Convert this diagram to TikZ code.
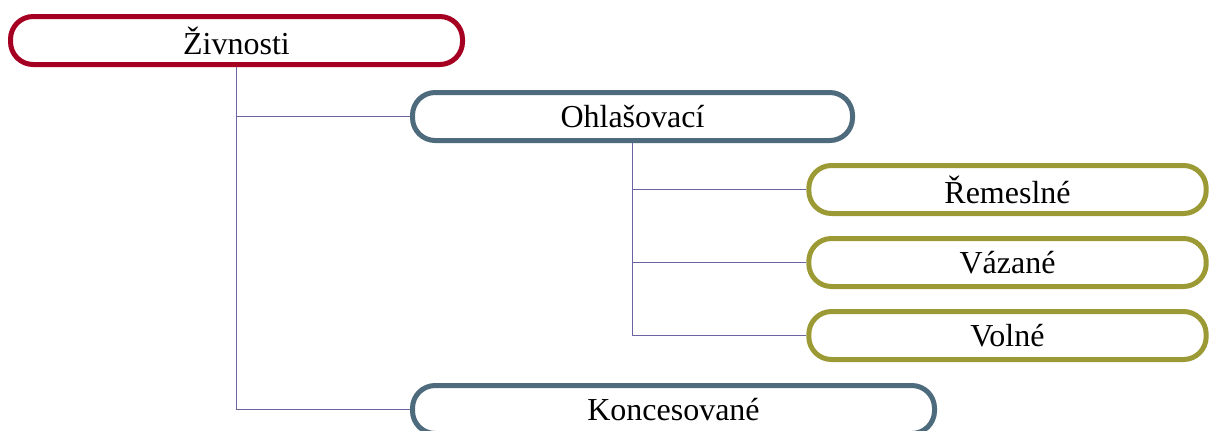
\documentclass[tikz,border=0pt]{standalone}
\usepackage{fontspec}
\setmainfont{Liberation Serif}
\definecolor{cred}{HTML}{A50021}
\definecolor{cblue}{HTML}{4E6B7E}
\definecolor{colive}{HTML}{9C9A35}
\definecolor{cline}{HTML}{6E62A3}
\begin{document}
\begin{tikzpicture}[x=0.75pt,y=-0.75pt,
  box/.style={draw,line width=3.75pt,rounded corners=17pt,fill=white,
    minimum height=36pt,inner sep=0pt,font=\fontsize{24}{28}\selectfont},
  lvl0/.style={box,draw=cred},
  lvl1/.style={box,draw=cblue},
  lvl2/.style={box,draw=colive},
  conn/.style={draw=cline,line width=1.1pt}]
\useasboundingbox (0,0) rectangle (1210,430);
\begin{scope}
\clip (0,0) rectangle (1210,430);
\node[lvl0,minimum width=339pt] (ziv) at (236.5,40.5) {Živnosti};
\node[lvl1,minimum width=330pt] (ohl) at (632.5,116.5) {Ohlašovací};
\node[lvl2,minimum width=298pt] (rem) at (1007.5,189.5) {Řemeslné};
\node[lvl2,minimum width=298pt] (vaz) at (1007.5,262.5) {Vázané};
\node[lvl2,minimum width=298pt] (vol) at (1007.5,335.5) {Volné};
\node[lvl1,minimum width=391.5pt] (kon) at (673.5,409.5) {Koncesované};
\end{scope}
\draw[conn] (ziv.south) |- (ohl.west);
\draw[conn] (ziv.south) |- (kon.west);
\draw[conn] (ohl.south) |- (rem.west);
\draw[conn] (ohl.south) |- (vaz.west);
\draw[conn] (ohl.south) |- (vol.west);
\end{tikzpicture}
\end{document}
